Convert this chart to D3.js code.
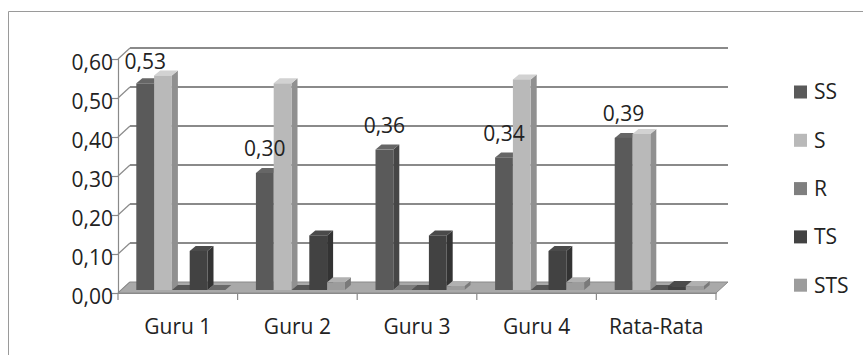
<!DOCTYPE html>
<html><head><meta charset="utf-8">
<script src="https://cdn.jsdelivr.net/npm/d3@7"></script>
<style>
html,body{margin:0;padding:0;background:#fff;}
svg{display:block;font-family:"Open Sans",sans-serif;}
</style></head>
<body>
<svg id="chart" width="863" height="355"></svg>
<script>
const categories = ["Guru 1","Guru 2","Guru 3","Guru 4","Rata-Rata"];
const seriesNames = ["SS","S","R","TS","STS"];
const SS  = [0.53,0.30,0.36,0.34,0.39];
const S   = [0.55,0.53,0.00,0.54,0.40];
const R   = [0.00,0.00,0.00,0.00,0.00];
const TS  = [0.10,0.14,0.14,0.10,0.01];
const STS = [0.00,0.02,0.01,0.02,0.01];
const yTicks = [0,0.1,0.2,0.3,0.4,0.5,0.6];
const labelSeries = "SS";

const seriesValues = {SS, S, R, TS, STS};
const colors = {SS:"#5a5a5a", S:"#b9b9b9", R:"#7f7f7f", TS:"#424242", STS:"#9c9c9c"};

const svg = d3.select("#chart");
const fmt = v => d3.format(".2f")(v).replace(".", ",");
const FS = 21;

// geometry
const x0 = 118, x1 = 716, yBase = 293, yTop = 59;
const DX = 12, DY = -11;          // floor depth
const FX = 3, FY = -3;            // bar front face offset
const BX = 6, BY = -5;            // bar depth

const x = d3.scaleBand().domain(categories).range([x0, x1]);
const xs = d3.scaleBand().domain(seriesNames).range([0, x.bandwidth()]).paddingOuter(0.86);
const y = d3.scaleLinear().domain([0, 0.6]).range([yBase, yTop]);

// chart border
svg.append("path").attr("d", "M8.5,355 L8.5,11.5 L863,11.5")
  .attr("fill","none").attr("stroke","#9a9a9a").attr("stroke-width",1);

// back wall gridlines
const grid = svg.append("g");
yTicks.forEach(t => {
  if (t > 0) grid.append("line")
    .attr("x1", x0 + DX).attr("x2", x1 + DX)
    .attr("y1", y(t) + DY).attr("y2", y(t) + DY)
    .attr("stroke", "#8a8a8a").attr("stroke-width", 2);
  grid.append("line")
    .attr("x1", x0).attr("y1", y(t))
    .attr("x2", x0 + DX).attr("y2", y(t) + DY)
    .attr("stroke", "#8a8a8a").attr("stroke-width", 1.2);
});

// floor
svg.append("path")
  .attr("d", `M${x0},${yBase} L${x1},${yBase} L${x1+DX},${yBase+DY} L${x0+DX},${yBase+DY} Z`)
  .attr("fill", "#a9a9a9").attr("stroke", "#8a8a8a").attr("stroke-width", 1);

// y axis (front)
const yAxis = d3.axisLeft(y).tickValues(yTicks).tickSize(6).tickFormat(fmt);
const gy = svg.append("g").attr("transform", `translate(${x0},0)`).call(yAxis);
gy.select(".domain").attr("stroke", "#8a8a8a").attr("stroke-width", 1.2);
gy.selectAll(".tick line").attr("stroke", "#8a8a8a").attr("stroke-width", 1.2);
gy.selectAll(".tick text").attr("font-size", FS).attr("fill", "#222")
  .attr("font-family", "Open Sans, sans-serif").attr("dy", "0.48em").attr("x", -5);

// x axis (front)
const xAxis = d3.axisBottom(x).tickSize(0).tickSizeOuter(0);
const gx = svg.append("g").attr("transform", `translate(0,${yBase})`).call(xAxis);
gx.select(".domain").attr("stroke", "#8a8a8a").attr("stroke-width", 1.2);
gx.selectAll(".tick text").attr("font-size", FS).attr("fill", "#222")
  .attr("font-family", "Open Sans, sans-serif").attr("y", 34).attr("dy", "0.35em");
const bounds = categories.map(c => x(c)).concat([x1]);
gx.selectAll("line.bound").data(bounds).join("line").attr("class","bound")
  .attr("x1", d => d).attr("x2", d => d).attr("y1", 0).attr("y2", 7)
  .attr("stroke", "#8a8a8a").attr("stroke-width", 1.2);

// bars
const bars = svg.append("g");
categories.forEach((c, ci) => {
  seriesNames.forEach(sn => {
    const v = seriesValues[sn][ci];
    const col = d3.color(colors[sn]);
    const bx = x(c) + xs(sn) + FX;
    const w = xs.bandwidth();
    const yb = y(0) + FY;
    const yt = y(v) + FY;
    const g = bars.append("g");
    if (v > 0) {
      g.append("path")
        .attr("d", `M${bx+w},${yb} L${bx+w+BX},${yb+BY} L${bx+w+BX},${yt+BY} L${bx+w},${yt} Z`)
        .attr("fill", col.darker(0.7));
      g.append("path")
        .attr("d", `M${bx},${yt} L${bx+w},${yt} L${bx+w+BX},${yt+BY} L${bx+BX},${yt+BY} Z`)
        .attr("fill", col.brighter(0.35));
      g.append("rect").attr("x", bx).attr("y", yt).attr("width", w).attr("height", yb - yt)
        .attr("fill", col);
    } else {
      g.append("path")
        .attr("d", `M${bx},${yt} L${bx+w},${yt} L${bx+w+BX},${yt+BY} L${bx+BX},${yt+BY} Z`)
        .attr("fill", col.darker(1.1));
    }
  });
});

// data labels (SS)
const labelTopLimit = 62;
svg.append("g").selectAll("text").data(categories).join("text")
  .attr("x", c => x(c) + xs(labelSeries) + FX + xs.bandwidth()/2)
  .attr("y", (c, i) => Math.max(y(seriesValues[labelSeries][i]) + FY - 24, labelTopLimit))
  .attr("dy", "0.35em")
  .attr("text-anchor", "middle").attr("font-size", FS).attr("fill", "#222")
  .text((c, i) => fmt(seriesValues[labelSeries][i]));

// legend
const lg = svg.append("g").attr("transform", "translate(794,92)");
seriesNames.forEach((sn, i) => {
  const it = lg.append("g").attr("transform", `translate(0,${i*48.3})`);
  it.append("rect").attr("x", 0).attr("y", -6.5).attr("width", 13).attr("height", 13).attr("fill", colors[sn]);
  it.append("text").attr("x", 20).attr("y", 0).attr("dy", "0.35em")
    .attr("font-size", FS).attr("fill", "#222").text(sn);
});
</script>
</body></html>
